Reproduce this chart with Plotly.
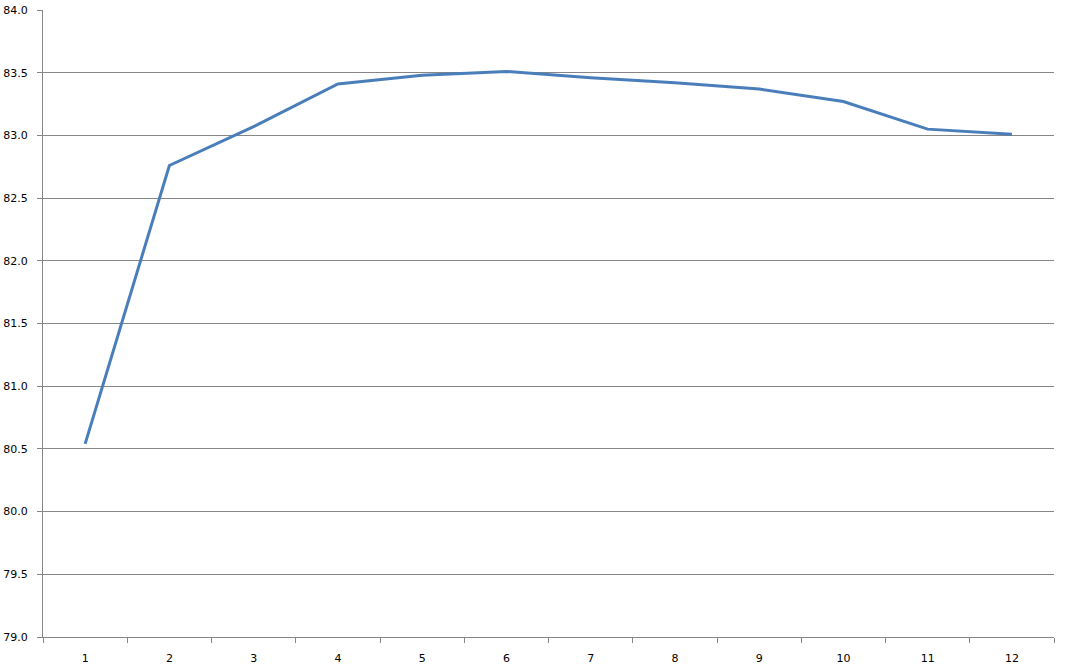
import plotly.graph_objects as go

categories = ["1", "2", "3", "4", "5", "6", "7", "8", "9", "10", "11", "12"]
values = [80.54, 82.76, 83.07, 83.41, 83.48, 83.51, 83.46, 83.42, 83.37, 83.27, 83.05, 83.01]
y_ticks = [79.0, 79.5, 80.0, 80.5, 81.0, 81.5, 82.0, 82.5, 83.0, 83.5, 84.0]
y_tick_labels = [f"{v:.1f}" for v in y_ticks]

fig = go.Figure()
fig.add_trace(go.Scatter(
    x=categories, y=values, mode="lines",
    line=dict(color="#4A7EBB", width=3),
    showlegend=False,
))

fig.update_layout(
    width=1067, height=671,
    margin=dict(l=43, r=13, t=10, b=34),
    paper_bgcolor="white", plot_bgcolor="white",
    font=dict(family="DejaVu Sans", size=11, color="#000000"),
)
fig.update_xaxes(
    type="category", range=[-0.5, len(categories) - 0.5],
    tickson="boundaries", ticks="outside", ticklen=5,
    tickcolor="#868686", showgrid=False, showline=True, linecolor="#868686",
    linewidth=1, zeroline=False, automargin=False, ticklabelstandoff=11,
)
fig.update_yaxes(
    range=[79, 84], tickvals=y_ticks, ticktext=y_tick_labels,
    ticks="outside", ticklen=5, tickcolor="#868686",
    showgrid=True, gridcolor="#868686", gridwidth=1,
    showline=True, linecolor="#868686", linewidth=1, zeroline=False,
    automargin=False, ticklabelstandoff=7,
)

fig.write_html("out.html", config={"displayModeBar": False},
               post_script="document.body.style.margin='0';")
